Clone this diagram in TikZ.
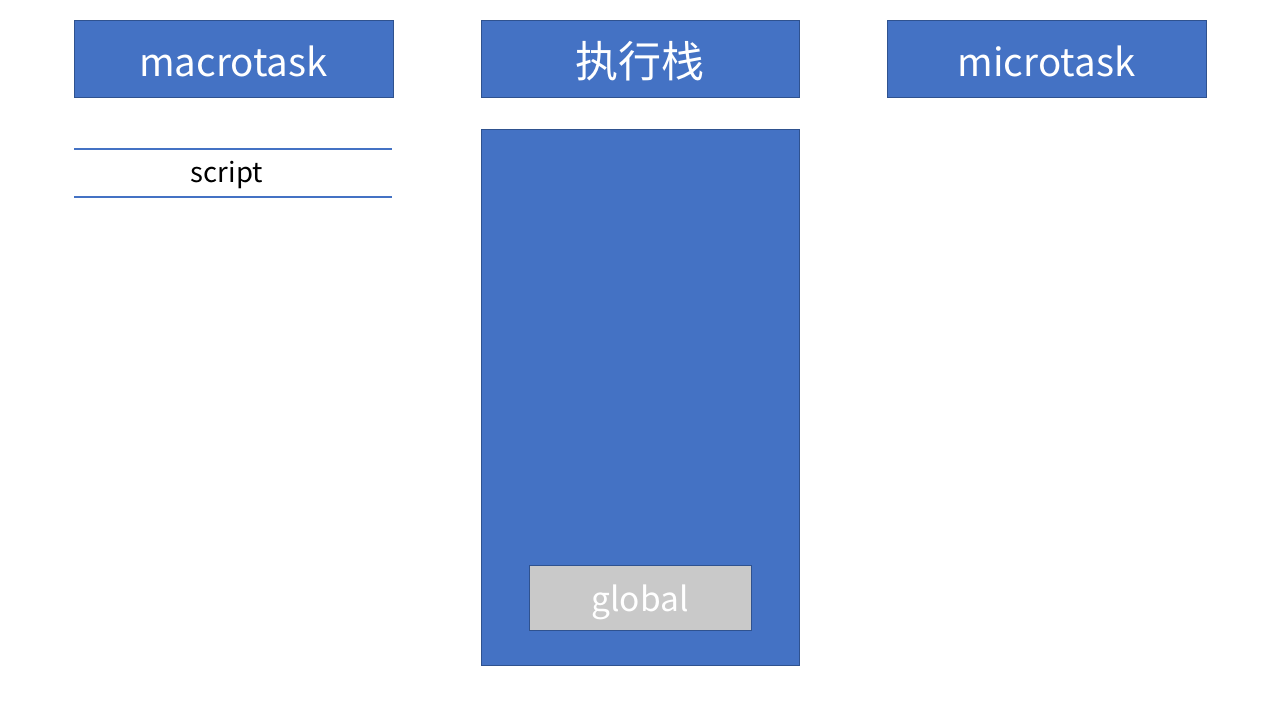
\documentclass[tikz,border=0pt]{standalone}
\usepackage{fontspec}
\setmainfont{Noto Sans CJK SC}
\begin{document}
\begin{tikzpicture}[x=1pt,y=-1pt,
  hdr/.style={draw=bordc,fill=boxc,line width=0.6pt},
  wtxt/.style={text=white,inner sep=0pt,anchor=base},
  lbl/.style={font=\fontsize{27.5}{32}\selectfont,inner sep=0pt,anchor=base}]
\definecolor{boxc}{HTML}{4472C4}
\definecolor{bordc}{HTML}{2F528F}
\definecolor{grayc}{HTML}{C9C9C9}
\useasboundingbox (0,0) rectangle (1280,720);
\fill[white] (0,0) rectangle (1280,720);
\draw[hdr] (74,20) rectangle (393,97);
\node[wtxt,font=\fontsize{38.5}{44}\selectfont] (macro) at (233.5,76) {macrotask};
\draw[hdr] (481,20) rectangle (799,97);
\node[text=white,font=\fontsize{43}{48}\selectfont] (stackh) at (640,61) {执行栈};
\draw[hdr] (887,20) rectangle (1206,97);
\node[wtxt,font=\fontsize{38.5}{44}\selectfont] (micro) at (1046.5,76) {microtask};
\draw[boxc,line width=1.5pt] (74,149) -- (392,149);
\draw[boxc,line width=1.5pt] (74,197) -- (392,197);
\node[lbl] (script) at (227,182) {script};
\draw[hdr] (481,129) rectangle (799,665);
\draw[draw=bordc,fill=grayc,line width=0.6pt] (529,565) rectangle (751,630);
\node[wtxt,font=\fontsize{33.5}{38}\selectfont] (global) at (640,611) {global};
\end{tikzpicture}
\end{document}
